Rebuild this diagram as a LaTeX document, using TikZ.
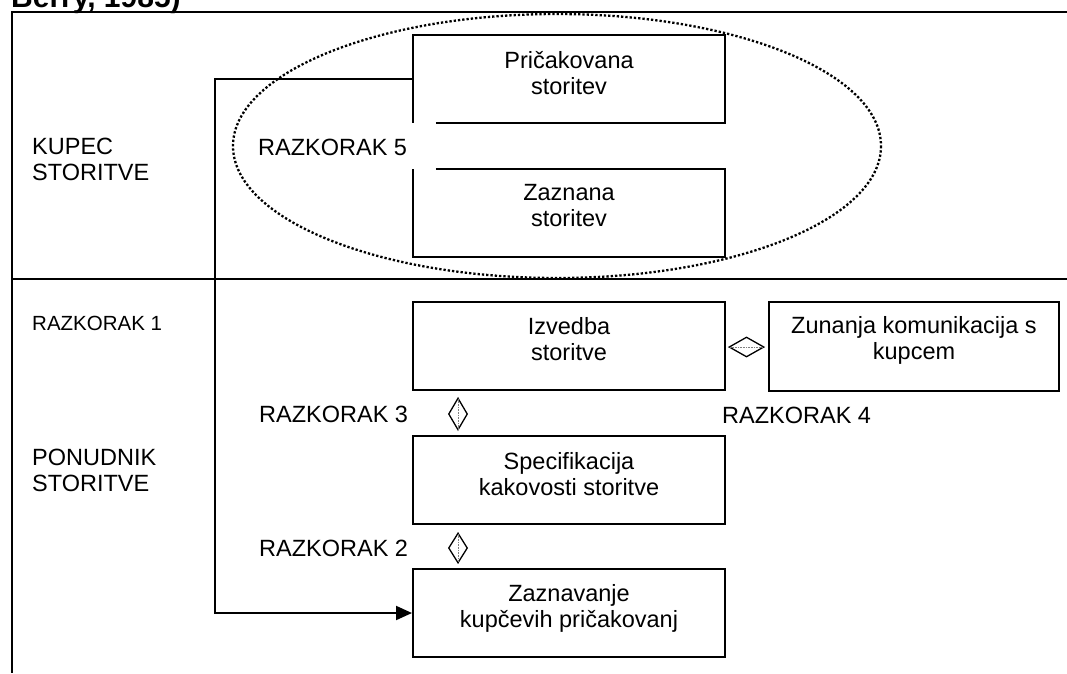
\documentclass[tikz,border=0pt]{standalone}
\usepackage{fontspec}
\setmainfont{Liberation Sans}
\usetikzlibrary{shapes.geometric,arrows.meta}
\begin{document}
\begin{tikzpicture}[x=1pt,y=-1pt,
  frameline/.style={line width=1.8pt},
  boxline/.style={line width=2pt, line join=miter},
  box/.style={draw, boxline, inner sep=0pt, minimum width=312pt, minimum height=88pt},
  plainbox/.style={inner sep=0pt, minimum width=312pt, minimum height=88pt},
  boxtext/.style={anchor=north, align=center, inner sep=0pt,
    font=\fontsize{23.5}{26}\selectfont, execute at begin node=\rule{0pt}{18pt}},
  sidelbl/.style={anchor=north west, align=left, inner sep=0pt,
    font=\fontsize{23.5}{26.5}\selectfont, execute at begin node=\rule{0pt}{18pt}},
  gaplbl/.style={anchor=base west, inner sep=0pt, font=\fontsize{23.5}{26}\selectfont},
  gapmark/.style={draw, shape=diamond, line width=1.3pt, inner sep=0pt},
  gapaxis/.style={gray, line width=0.7pt, dash pattern=on 0.7pt off 0.9pt},
  zone/.style={line width=2.3pt, dash pattern=on 2.3pt off 2pt}
]
\useasboundingbox (0,0) rectangle (1067,673);

% heading line, cut by the top edge of the page
\node[anchor=base west, inner sep=0pt, font=\bfseries\fontsize{30}{32}\selectfont] (title) at (11,7) {Berry, 1985)};

% frame and the split between customer and provider
\coordinate (ftl) at (12,12);
\coordinate (ftr) at (1067,12);
\coordinate (fbl) at (12,673);
\coordinate (dl) at (12,279);
\coordinate (dr) at (1067,279);
\draw[frameline] (ftr) -- (ftl) -- (fbl);
\draw[frameline] (dl) -- (dr);

% customer side
\node[plainbox] (pric) at (569,79) {};
\draw[boxline] ([xshift=23pt]pric.south west) -- (pric.south east) -- (pric.north east)
  -- (pric.north west) -- (pric.south west);
\node[boxtext] (pricT) at (569,50.8) {Pričakovana\\storitev};

\node[plainbox] (zazn) at (569,213) {};
\draw[boxline] ([xshift=23pt]zazn.north west) -- (zazn.north east) -- (zazn.south east)
  -- (zazn.south west) -- (zazn.north west);
\node[boxtext] (zaznT) at (569,183.8) {Zaznana\\storitev};

% provider side
\node[box] (izv) at (569,346) {};
\node[boxtext] (izvT) at (569,317) {Izvedba\\storitve};

\node[box] (spec) at (569,480) {};
\node[boxtext] (specT) at (569,451.8) {Specifikacija\\kakovosti storitve};

\node[box] (zaznav) at (569,613) {};
\node[boxtext] (zaznavT) at (569,583.8) {Zaznavanje\\kupčevih pričakovanj};

\node[box, minimum width=290pt, minimum height=89pt] (zun) at (914,346.5) {};
\node[boxtext] (zunT) at (914,315.8) {Zunanja komunikacija s\\kupcem};

% side labels
\node[sidelbl] (kupec) at (32,137.8) {KUPEC\\STORITVE};
\node[sidelbl] (ponudnik) at (32,448.8) {PONUDNIK\\STORITVE};
\node[anchor=base west, inner sep=0pt, font=\fontsize{20.5}{24}\selectfont] (r1) at (32,330) {RAZKORAK 1};

% gap labels
\node[gaplbl] (r5) at (258,155) {RAZKORAK 5};
\node[gaplbl] (r3) at (259,422) {RAZKORAK 3};
\node[gaplbl] (r2) at (259,556) {RAZKORAK 2};
\node[gaplbl] (r4) at (722,423) {RAZKORAK 4};

% gap markers
\node[gapmark, minimum width=19pt, minimum height=32pt] (g3) at (458,414) {};
\draw[gapaxis] (g3.north) -- (g3.south);
\node[gapmark, minimum width=19pt, minimum height=30pt] (g2) at (458,548) {};
\draw[gapaxis] (g2.north) -- (g2.south);
\node[gapmark, minimum width=35pt, minimum height=20pt] (g4) at (746.5,347) {};
\draw[gapaxis] (g4.west) -- (g4.east);

% expectations feed back to the provider
\coordinate (bend) at (215,79);
\draw[boxline, -{Triangle[length=16pt,width=14pt]}] (pric.west) -- (bend) |- (zaznav.west);

% gap 5 zone around expected and perceived service
\draw[zone] (557,146) ellipse [x radius=324, y radius=132];
\end{tikzpicture}
\end{document}
